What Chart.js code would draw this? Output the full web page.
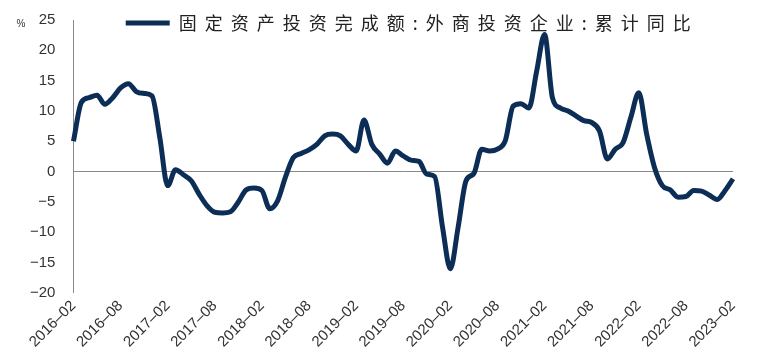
<!DOCTYPE html>
<html>
<head>
<meta charset="utf-8">
<script src="https://cdn.jsdelivr.net/npm/chart.js@4.4.1/dist/chart.umd.min.js"></script>
<style>
  html, body { margin: 0; padding: 0; background: #ffffff; }
  #wrap { width: 768px; height: 355px; }
</style>
</head>
<body>
<div id="wrap"><canvas id="c" width="768" height="355"></canvas></div>
<script>
// ---- data ----
const seriesName = '固定资产投资完成额:外商投资企业:累计同比';
const startYear = 2016, startMonth = 2, monthCount = 85;
const tickLabels = ['2016-02','2016-08','2017-02','2017-08','2018-02','2018-08','2019-02','2019-08',
                    '2020-02','2020-08','2021-02','2021-08','2022-02','2022-08','2023-02'];
const values = [
  5.0, 11.4, 12.2, 12.6, 11.1, 12.2, 13.8, 14.5, 13.2, 12.9, 12.5, 5.6,
  -2.3, 0.3, -0.5, -1.5, -3.7, -5.6, -6.7, -6.8, -6.6, -5.0, -3.0, -2.7,
  -3.1, -6.1, -4.8, -0.9, 2.3, 3.0, 3.6, 4.5, 5.9, 6.2, 5.9, 4.5,
  3.4, 8.5, 4.5, 2.9, 1.4, 3.4, 2.6, 1.9, 1.7, -0.4, -0.8, -9.1,
  -16.0, -9.1, -1.5, -0.3, 3.7, 3.4, 3.7, 5.1, 10.8, 11.2, 10.5, 16.6,
  22.6, 12.2, 10.5, 10.0, 9.2, 8.4, 8.1, 6.7, 2.1, 3.7, 4.8, 9.0,
  13.0, 6.2, 0.7, -2.3, -3.0, -4.2, -4.1, -3.1, -3.2, -3.9, -4.6, -3.1,
  -1.2
];
const yTicks = [-20, -15, -10, -5, 0, 5, 10, 15, 20, 25];

const months = [];
for (let i = 0; i < monthCount; i++) {
  const m0 = startMonth - 1 + i;
  const y = startYear + Math.floor(m0 / 12);
  const m = (m0 % 12) + 1;
  months.push(y + '-' + String(m).padStart(2, '0'));
}

// ---- styling ----
const LINE_COLOR = '#0c2d55';
const TEXT_COLOR = '#333333';
const AXIS_COLOR = '#8a8a8a';
const LETTER_SPACING = '8px';
const LEGEND_SHIFT_X = 9;

const legendSpacing = {
  id: 'legendSpacing',
  beforeLayout(chart) {
    const lg = chart.legend;
    if (!lg || lg._spaced) return;
    lg._spaced = true;
    const f = lg.fit;
    lg.fit = function () {
      const c = this.ctx; c.save(); c.letterSpacing = LETTER_SPACING;
      f.apply(this, arguments); c.restore();
      this.height = 0; // legend overlaps the plot, takes no layout space
    };
    lg.draw = function () {
      if (!this.options.display) return;
      const c = this.ctx; c.save(); c.letterSpacing = LETTER_SPACING;
      this.left += LEGEND_SHIFT_X; this.right += LEGEND_SHIFT_X;
      this._draw();
      this.left -= LEGEND_SHIFT_X; this.right -= LEGEND_SHIFT_X;
      c.restore();
    };
  }
};

const unitLabel = {
  id: 'unitLabel',
  afterDraw(chart) {
    const ys = chart.scales.y;
    const ctx = chart.ctx;
    ctx.save();
    ctx.font = '10px "Liberation Sans", Arial, sans-serif';
    ctx.fillStyle = TEXT_COLOR;
    ctx.textAlign = 'center';
    ctx.textBaseline = 'middle';
    ctx.fillText('%', 21, ys.getPixelForValue(25) + 4);
    ctx.restore();
  }
};

new Chart(document.getElementById('c'), {
  type: 'line',
  data: {
    labels: months,
    datasets: [{
      label: seriesName,
      data: values,
      borderColor: LINE_COLOR,
      backgroundColor: LINE_COLOR,
      borderWidth: 5,
      pointRadius: 0,
      cubicInterpolationMode: 'monotone',
      fill: false
    }]
  },
  options: {
    responsive: false,
    animation: false,
    layout: { padding: { left: 30, right: 35, top: 20, bottom: 0 } },
    plugins: {
      legend: {
        position: 'top',
        fullSize: false,
        labels: {
          usePointStyle: true,
          pointStyle: 'line',
          pointStyleWidth: 44,
          padding: -6,
          color: '#222222',
          font: { family: '"Noto Sans CJK SC", sans-serif', size: 18 }
        }
      },
      tooltip: { enabled: false }
    },
    scales: {
      x: {
        type: 'category',
        offset: false,
        grid: { display: false, drawTicks: false },
        border: { display: false },
        ticks: {
          autoSkip: false,
          maxRotation: 45,
          minRotation: 45,
          padding: 4,
          color: TEXT_COLOR,
          font: { family: '"Liberation Sans", Arial, sans-serif', size: 15 },
          callback: function (val, idx) {
            const lab = months[idx];
            return tickLabels.includes(lab) ? lab.replace('-', '–') : null;
          }
        }
      },
      y: {
        min: -20,
        max: 25,
        afterBuildTicks(scale) { scale.ticks = yTicks.map(v => ({ value: v })); },
        grid: {
          drawTicks: true,
          tickLength: 18,
          tickColor: 'rgba(0,0,0,0)',
          color: ctx => (ctx.tick && ctx.tick.value === 0) ? AXIS_COLOR : 'rgba(0,0,0,0)',
          lineWidth: 1
        },
        border: { display: true, color: AXIS_COLOR, width: 1 },
        ticks: {
          padding: 0,
          color: TEXT_COLOR,
          font: { family: '"Liberation Sans", Arial, sans-serif', size: 15 },
          callback: v => (v < 0 ? '−' + Math.abs(v) : String(v))
        }
      }
    }
  },
  plugins: [legendSpacing, unitLabel]
});
</script>
</body>
</html>
